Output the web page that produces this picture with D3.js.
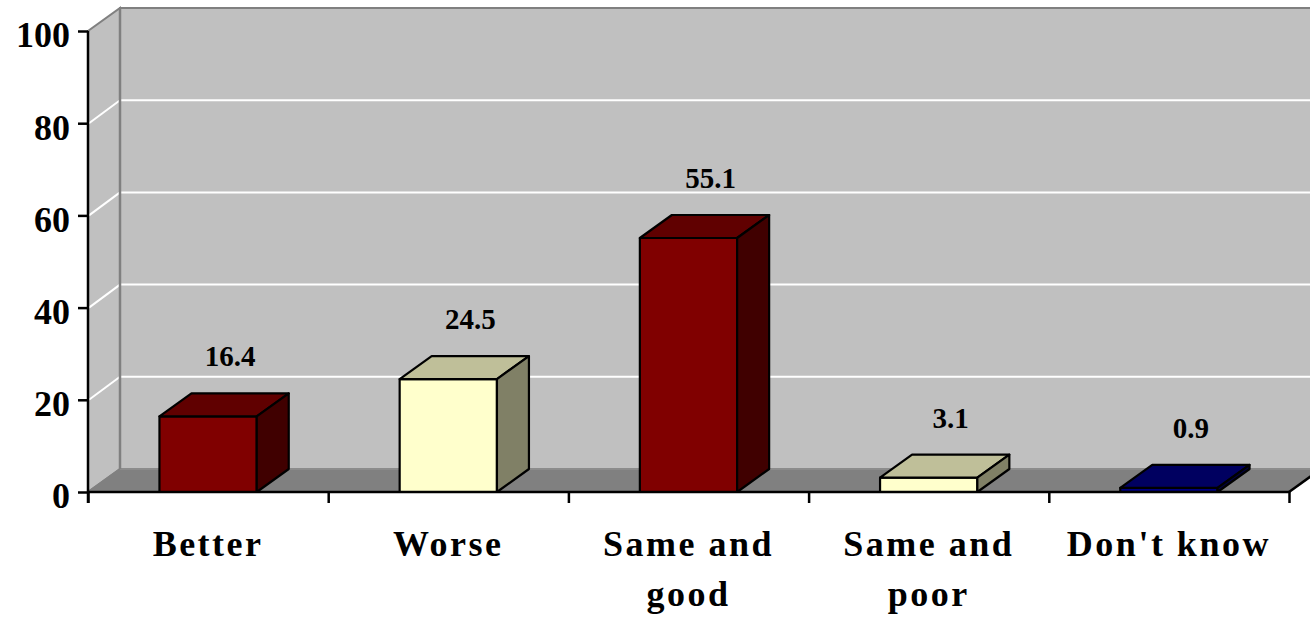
<!DOCTYPE html>
<html>
<head>
<meta charset="utf-8">
<script src="https://cdn.jsdelivr.net/npm/d3@7"></script>
<style>
  html, body { margin: 0; padding: 0; background: #fff; }
  svg { display: block; }
  text { font-family: "Liberation Serif", "Times New Roman", serif; font-weight: bold; fill: #000; }
</style>
</head>
<body>
<svg id="chart" width="1310" height="621"></svg>
<script>
// Survey responses (percent)
const categories = ["Better", "Worse", "Same and good", "Same and poor", "Don't know"];
const values = [16.4, 24.5, 55.1, 3.1, 0.9];
const barColors = ["#800000", "#FFFFCC", "#800000", "#FFFFCC", "#000080"];
const yTicks = [0, 20, 40, 60, 80, 100];

(function () {
const svg = d3.select("#chart");
const W = 1310;

// Front plane of the 3D box
const plotLeft = 88, plotRight = 1289, plotBottom = 492, plotTop = 31;
// Depth offset of the back plane
const DX = 32, DY = -23;

const y = d3.scaleLinear().domain([0, 100]).range([plotBottom, plotTop]);
const x = d3.scaleBand().domain(categories).range([plotLeft, plotRight]).paddingInner(0).paddingOuter(0);
const xEdges = d3.scaleLinear().domain([0, categories.length]).range([plotLeft, plotRight]);

const wallFill = "#C0C0C0", floorFill = "#808080", wallLine = "#808080";
const poly = pts => "M" + pts.map(p => p.join(",")).join("L") + "Z";

// Shade a colour by a factor (for top and side faces)
function shade(c, k) {
  const r = d3.rgb(c);
  return d3.rgb(Math.round(r.r * k), Math.round(r.g * k), Math.round(r.b * k)).formatHex();
}

const walls = svg.append("g");
// back wall
walls.append("path")
  .attr("d", poly([[plotLeft + DX, y(100) + DY], [W + 40, y(100) + DY], [W + 40, y(0) + DY], [plotLeft + DX, y(0) + DY]]))
  .attr("fill", wallFill).attr("stroke", wallLine).attr("stroke-width", 2);
// side wall
walls.append("path")
  .attr("d", poly([[plotLeft, y(0)], [plotLeft, y(100)], [plotLeft + DX, y(100) + DY], [plotLeft + DX, y(0) + DY]]))
  .attr("fill", wallFill).attr("stroke", wallLine).attr("stroke-width", 2);
// floor
walls.append("path")
  .attr("d", poly([[plotLeft, y(0)], [plotRight, y(0)], [plotRight + DX, y(0) + DY], [plotLeft + DX, y(0) + DY]]))
  .attr("fill", floorFill).attr("stroke", "none");
walls.append("line")
  .attr("x1", plotLeft).attr("y1", y(0)).attr("x2", plotLeft + DX).attr("y2", y(0) + DY)
  .attr("stroke", wallLine).attr("stroke-width", 2);
walls.append("line")
  .attr("x1", plotLeft + DX).attr("y1", y(0) + DY).attr("x2", W + 40).attr("y2", y(0) + DY)
  .attr("stroke", "#8c8c8c").attr("stroke-width", 2);

// gridlines on side and back walls
const grid = svg.append("g");
const inner = yTicks.filter(t => t > 0 && t < 100);
grid.selectAll(".gs").data(inner).join("line")
  .attr("x1", plotLeft + 1).attr("y1", d => y(d)).attr("x2", plotLeft + DX).attr("y2", d => y(d) + DY)
  .attr("stroke", "#fff").attr("stroke-width", 2);
grid.selectAll(".gb").data(inner).join("line")
  .attr("x1", plotLeft + DX + 1).attr("y1", d => y(d) + DY).attr("x2", W + 40).attr("y2", d => y(d) + DY)
  .attr("stroke", "#fff").attr("stroke-width", 2);
// back wall left edge
grid.append("line")
  .attr("x1", plotLeft + DX).attr("y1", y(100) + DY).attr("x2", plotLeft + DX).attr("y2", y(0) + DY)
  .attr("stroke", wallLine).attr("stroke-width", 2.5);

// bars
const bw = x.bandwidth() * 0.405;
const bars = svg.append("g").selectAll("g").data(categories).join("g");
bars.each(function (c, i) {
  const g = d3.select(this);
  const x0 = x(c) + (x.bandwidth() - bw) / 2, x1 = x0 + bw;
  const yt = y(values[i]), yb = y(0);
  const col = barColors[i];
  const face = (d, fill) => g.append("path").attr("d", d).attr("fill", fill)
    .attr("stroke", "#000").attr("stroke-width", 2.2).attr("stroke-linejoin", "round");
  face(poly([[x0, yb], [x1, yb], [x1, yt], [x0, yt]]), col);
  face(poly([[x0, yt], [x1, yt], [x1 + DX, yt + DY], [x0 + DX, yt + DY]]), shade(col, 0.75));
  face(poly([[x1, yb], [x1 + DX, yb + DY], [x1 + DX, yt + DY], [x1, yt]]), shade(col, 0.5));
  // value label above the bar
  g.append("text")
    .attr("x", x0 + bw / 2 + DX / 2 + 6)
    .attr("y", yt + DY - 27)
    .attr("text-anchor", "middle")
    .attr("font-size", 29)
    .text(values[i].toFixed(1));
});

// floor front edge and right edge
svg.append("line")
  .attr("x1", plotLeft).attr("y1", y(0)).attr("x2", plotRight).attr("y2", y(0))
  .attr("stroke", "#000").attr("stroke-width", 2.5);
svg.append("line")
  .attr("x1", plotRight).attr("y1", y(0)).attr("x2", plotRight + DX).attr("y2", y(0) + DY)
  .attr("stroke", "#000").attr("stroke-width", 2.5);

// value axis
const yAxis = svg.append("g")
  .attr("transform", `translate(${plotLeft},0)`)
  .call(d3.axisLeft(y).tickValues(yTicks).tickSize(10).tickPadding(8).tickFormat(d3.format("d")));
yAxis.select(".domain").attr("d", `M0,${plotTop}V${plotBottom + 11}`).attr("stroke", "#000").attr("stroke-width", 2.5);
yAxis.selectAll(".tick line").attr("stroke", "#000").attr("stroke-width", 2.5);
yAxis.selectAll(".tick text")
  .attr("font-size", 36).attr("font-family", "Liberation Serif, serif").attr("font-weight", "bold")
  .attr("dy", "0.44em").attr("fill", "#000");

// category axis ticks at band edges
const xAxis = svg.append("g")
  .attr("transform", `translate(0,${plotBottom})`)
  .call(d3.axisBottom(xEdges).tickValues(d3.range(categories.length + 1)).tickSize(11).tickFormat(""));
xAxis.select(".domain").remove();
xAxis.selectAll(".tick line").attr("stroke", "#000").attr("stroke-width", 2.5);

// category labels, wrapped to the band width
const labels = svg.append("g").selectAll("text").data(categories).join("text")
  .attr("text-anchor", "middle")
  .attr("font-size", 36)
  .attr("letter-spacing", "2.5px")
  .attr("x", d => x(d) + x.bandwidth() / 2)
  .attr("y", 556);
labels.each(function (d) {
  const t = d3.select(this);
  const cx = +t.attr("x");
  const words = d.split(" ");
  const lines = [];
  let line = [];
  const probe = t.append("tspan");
  words.forEach(w => {
    const trial = line.concat(w).join(" ");
    probe.text(trial);
    if (probe.node().getComputedTextLength() > 220 && line.length) {
      lines.push(line.join(" "));
      line = [w];
    } else line.push(w);
  });
  lines.push(line.join(" "));
  probe.remove();
  lines.forEach((l, k) => {
    t.append("tspan").attr("x", cx).attr("dy", k === 0 ? 0 : 50).text(l);
  });
});
})();
</script>
</body>
</html>
